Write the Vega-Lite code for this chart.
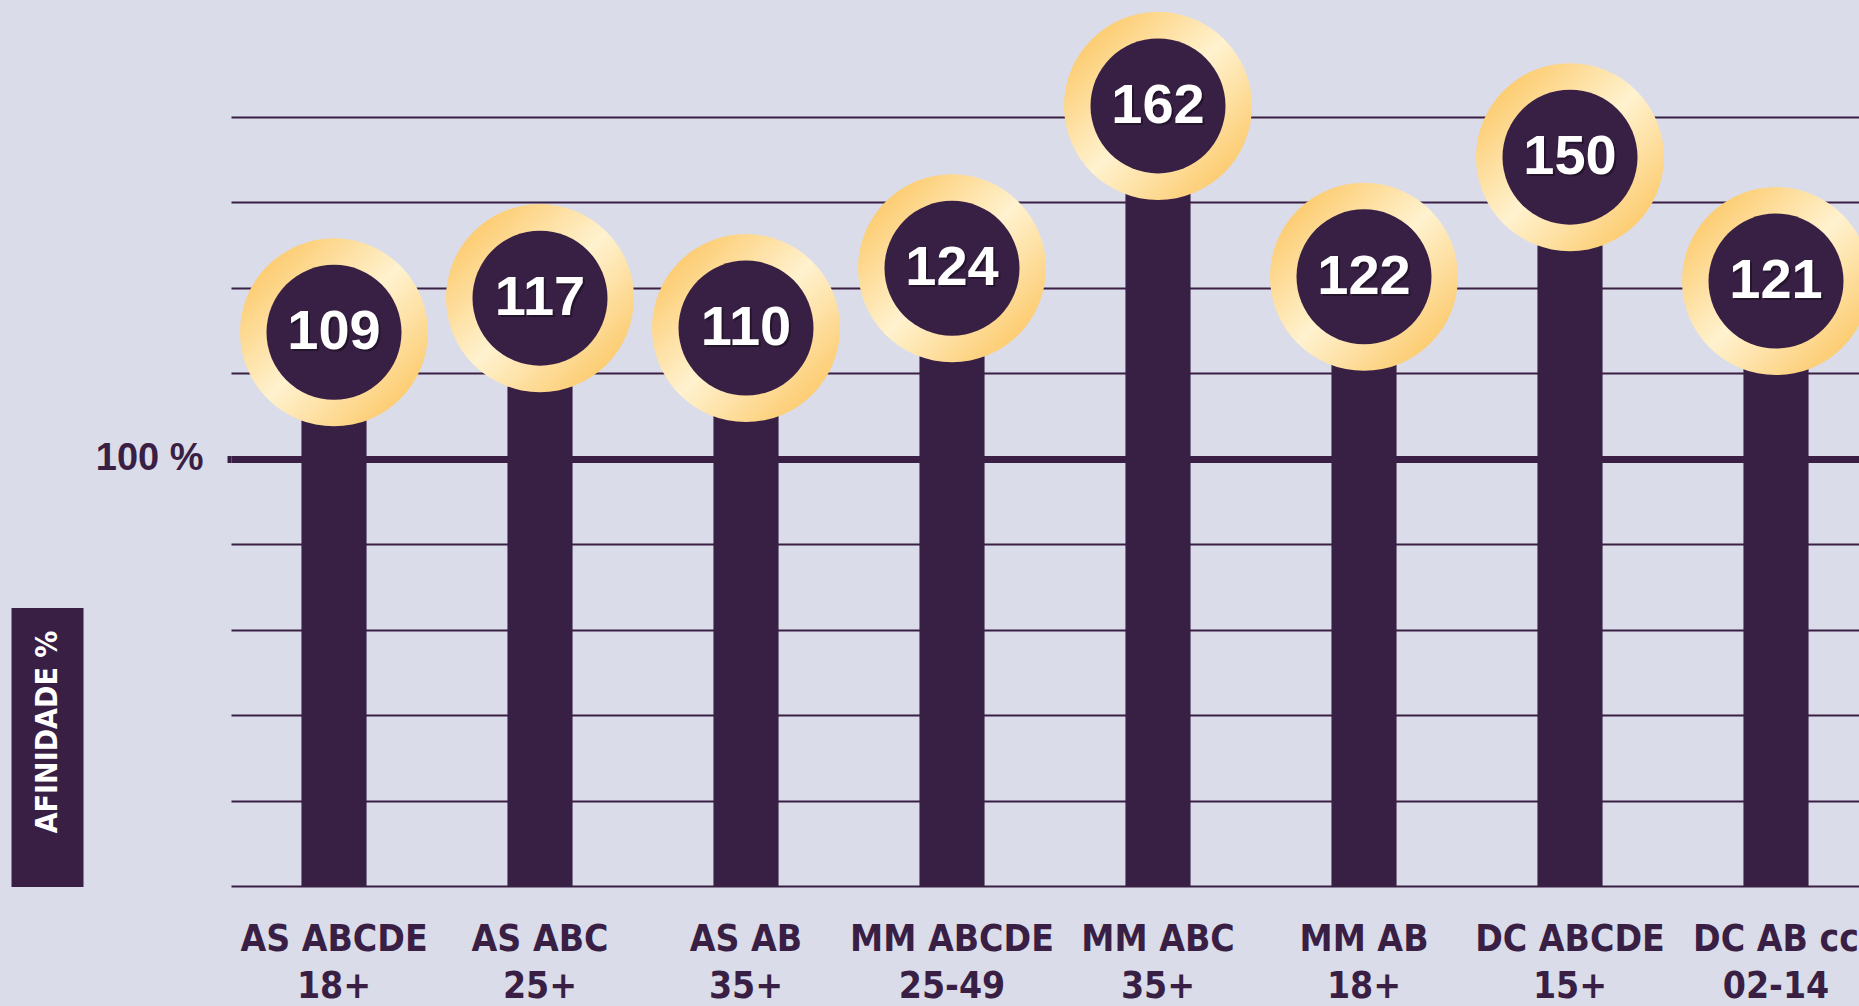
{
  "$schema": "https://vega.github.io/schema/vega-lite/v6.json",
  "autosize": {"type": "none"},
  "padding": {"left": 231, "top": 117, "right": 0, "bottom": 120},
  "width": 1628,
  "height": 769,
  "background": "#dadce9",
  "config": {"view": {"stroke": null}},
  "data": {
    "values": [
      {"seg": "AS ABCDE|18+", "afinidade": 109},
      {"seg": "AS ABC|25+", "afinidade": 117},
      {"seg": "AS AB|35+", "afinidade": 110},
      {"seg": "MM ABCDE|25-49", "afinidade": 124},
      {"seg": "MM ABC|35+", "afinidade": 162},
      {"seg": "MM AB|18+", "afinidade": 122},
      {"seg": "DC ABCDE|15+", "afinidade": 150},
      {"seg": "DC AB cc|02-14", "afinidade": 121}
    ]
  },
  "layer": [
    {
      "encoding": {
        "x": {
          "field": "seg",
          "type": "nominal",
          "sort": null,
          "scale": {"range": [0, 1648], "paddingInner": 0.684, "paddingOuter": 0.342},
          "axis": {
            "title": null,
            "domain": false,
            "ticks": false,
            "tickSize": 0,
            "labelAngle": 0,
            "labelExpr": "split(datum.value, '|')",
            "labelFont": "DejaVu Sans Condensed",
            "labelFontWeight": "bold",
            "labelFontSize": 37,
            "labelColor": "#3a1f45",
            "labelLineHeight": 47,
            "labelPadding": 35,
            "labelLimit": 0,
            "labelOverlap": false,
            "labelBound": false,
            "labelFlush": false
          }
        },
        "y": {
          "field": "afinidade",
          "type": "quantitative",
          "scale": {"domain": [0, 180], "nice": false, "zero": true},
          "axis": {
            "title": null,
            "values": [0, 20, 40, 60, 80, 100, 120, 140, 160, 180],
            "domain": false,
            "grid": true,
            "gridColor": "#3a1f45",
            "gridOpacity": 1,
            "gridWidth": {"condition": {"test": "datum.value === 100", "value": 7}, "value": 2},
            "ticks": true,
            "tickSize": 4,
            "tickColor": "#3a1f45",
            "tickWidth": {"condition": {"test": "datum.value === 100", "value": 7}, "value": 0},
            "labelExpr": "datum.value === 100 ? '100 %' : ''",
            "labelFont": "Liberation Sans",
            "labelFontWeight": "bold",
            "labelFontSize": 38,
            "labelColor": "#3a1f45",
            "labelPadding": 24,
            "labelBaseline": "middle"
          }
        }
      },
      "layer": [
        {"mark": {"type": "bar", "color": "#381f44", "clip": false}},
        {
          "mark": {
            "type": "point",
            "shape": "circle",
            "filled": true,
            "size": 35344,
            "yOffset": -88,
            "opacity": 1,
            "strokeWidth": 0,
            "fill": {
              "gradient": "linear",
              "x1": 0, "y1": 0, "x2": 1, "y2": 1,
              "stops": [
                {"offset": 0.1, "color": "#fcc867"},
                {"offset": 0.5, "color": "#fff2cf"},
                {"offset": 0.9, "color": "#fcc867"}
              ]
            }
          }
        },
        {
          "mark": {
            "type": "point",
            "shape": "circle",
            "filled": true,
            "size": 18225,
            "yOffset": -88,
            "opacity": 1,
            "strokeWidth": 0,
            "fill": "#381f44"
          }
        },
        {
          "mark": {
            "type": "text",
            "font": "Liberation Sans",
            "fontWeight": "bold",
            "fontSize": 56,
            "color": "#000000",
            "opacity": 0.35,
            "align": "center",
            "baseline": "middle",
            "yOffset": -86,
            "xOffset": 2
          },
          "encoding": {"text": {"field": "afinidade", "type": "quantitative"}}
        },
        {
          "mark": {
            "type": "text",
            "font": "Liberation Sans",
            "fontWeight": "bold",
            "fontSize": 56,
            "color": "#ffffff",
            "align": "center",
            "baseline": "middle",
            "yOffset": -88
          },
          "encoding": {"text": {"field": "afinidade", "type": "quantitative"}}
        }
      ]
    },
    {
      "mark": {"type": "rule", "strokeOpacity": 0},
      "encoding": {
        "y": {
          "field": "afinidade",
          "type": "quantitative",
          "scale": {"domain": [0, 180], "nice": false, "zero": true},
          "axis": {
            "orient": "left",
            "title": null,
            "offset": 148,
            "values": [32.65],
            "domain": false,
            "grid": false,
            "ticks": true,
            "tickSize": 72,
            "tickWidth": 279,
            "tickCap": "butt",
            "tickColor": "#3a1f45",
            "tickOpacity": 1,
            "labelExpr": "'AFINIDADE %'",
            "labelAngle": 270,
            "labelAlign": "center",
            "labelBaseline": "middle",
            "labelPadding": -36,
            "labelOffset": -15,
            "labelFont": "DejaVu Sans Condensed",
            "labelFontWeight": "bold",
            "labelFontSize": 30,
            "labelColor": "#ffffff",
            "labelLimit": 0,
            "labelOverlap": false,
            "labelBound": false,
            "labelFlush": false
          }
        }
      }
    }
  ],
  "resolve": {"scale": {"y": "independent"}}
}
